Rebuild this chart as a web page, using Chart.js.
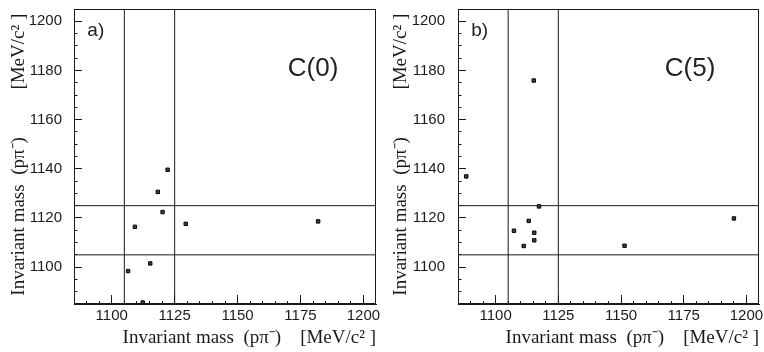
<!DOCTYPE html>
<html><head><meta charset="utf-8">
<script src="https://cdn.jsdelivr.net/npm/chart.js@4.4.1/dist/chart.umd.min.js"></script>
<style>
html,body{margin:0;padding:0;background:#fff;}
#wrap{position:relative;width:764px;height:352px;overflow:hidden;}
.pane{position:absolute;top:0;width:382px;height:352px;}
#pa{left:0;} #pb{left:382px;}
canvas{display:block;}
</style></head><body>
<div id="wrap">
  <div class="pane" id="pa"><canvas id="ca" width="382" height="352"></canvas></div>
  <div class="pane" id="pb"><canvas id="cb" width="382" height="352"></canvas></div>
</div>
<script>
// ---- data ----
const axisMin = 1085, axisMax = 1205;
const cutLines = [1105, 1125];
const xMajorTicks = [1100, 1125, 1150, 1175, 1200];
const yMajorTicks = [1100, 1120, 1140, 1160, 1180, 1200];
const minorTicks = [1090, 1095, 1100, 1105, 1110, 1115, 1120, 1125, 1130, 1135, 1140, 1145, 1150,
                    1155, 1160, 1165, 1170, 1175, 1180, 1185, 1190, 1195, 1200];
const panelA_x = [1122.2, 1118.3, 1120.2, 1109.2, 1129.4, 1106.5, 1115.3, 1112.3, 1182.0];
const panelA_y = [1139.6, 1130.6, 1122.4, 1116.4, 1117.6, 1098.4, 1101.5, 1085.6, 1118.6];
const panelB_x = [1115.2, 1088.3, 1117.3, 1113.2, 1107.3, 1115.4, 1115.4, 1111.2, 1151.4, 1195.0];
const panelB_y = [1175.9, 1136.9, 1124.7, 1118.8, 1114.8, 1114.0, 1110.9, 1108.6, 1108.7, 1119.8];
const panelLetters = ['a)', 'b)'];
const panelTags = ['C(0)', 'C(5)'];
const xTitle = 'Invariant mass  (pπ⁻)    [MeV/c² ]';
const yTitle = 'Invariant mass  (pπ⁻)          [MeV/c² ] ';

const INK = '#1a1a1a';
const tickFont = {family: '"Liberation Sans", Arial, sans-serif', size: 15};
const titleFont = {family: '"Liberation Serif", "Times New Roman", serif', size: 19};

const textPlugin = {
  id: 'panelText',
  afterDatasetsDraw(chart, args, opts) {
    const {ctx, chartArea} = chart;
    const xs = chart.scales.x, ys = chart.scales.y;
    ctx.save();
    ctx.strokeStyle = INK; ctx.lineWidth = 1;
    ctx.strokeRect(Math.round(chartArea.left) + 0.5, Math.round(chartArea.top) + 0.5,
                   Math.round(chartArea.right - chartArea.left) - 1, Math.round(chartArea.bottom - chartArea.top) - 1);
    ctx.fillStyle = '#222';
    ctx.font = '19px "Liberation Sans", Arial, sans-serif';
    ctx.textAlign = 'left'; ctx.textBaseline = 'middle';
    ctx.fillText(opts.letter, xs.getPixelForValue(opts.letterAt[0]), ys.getPixelForValue(opts.letterAt[1]));
    ctx.font = '26px "Liberation Sans", Arial, sans-serif';
    ctx.textAlign = 'center';
    ctx.fillText(opts.tag, xs.getPixelForValue(opts.tagAt[0]), ys.getPixelForValue(opts.tagAt[1]));
    ctx.restore();
  }
};

function makePanel(canvasId, xs, ys, letter, tag, layout) {
  const pts = xs.map((v, i) => ({x: v, y: ys[i]}));
  const lineDs = [];
  cutLines.forEach(c => {
    lineDs.push({data: [{x: c, y: axisMin}, {x: c, y: axisMax}], showLine: true, pointRadius: 0,
                 borderColor: INK, borderWidth: 1, order: 2});
    lineDs.push({data: [{x: axisMin, y: c}, {x: axisMax, y: c}], showLine: true, pointRadius: 0,
                 borderColor: INK, borderWidth: 1, order: 2});
  });
  return new Chart(document.getElementById(canvasId), {
    type: 'scatter',
    data: {datasets: [
      {data: pts, pointStyle: 'rect', pointRadius: 2.4, backgroundColor: '#444', borderColor: '#000',
       borderWidth: 1, order: 1},
      ...lineDs
    ]},
    options: {
      responsive: false, animation: false, devicePixelRatio: 1,
      layout: {padding: {left: 0, top: 9, right: layout.right, bottom: 0}},
      plugins: {legend: {display: false}, tooltip: {enabled: false},
                panelText: {letter, tag, letterAt: [1090.3, 1196], tagAt: layout.tagAt}},
      scales: {
        x: {
          type: 'linear', position: 'bottom', min: axisMin, max: axisMax,
          afterBuildTicks: s => { s.ticks = minorTicks.map(v => ({value: v})); },
          afterFit: s => { s.height = 48; s.paddingLeft = 0; s.paddingRight = 0; },
          ticks: {font: tickFont, color: INK, padding: 12, maxRotation: 0, autoSkip: false,
                  callback: v => xMajorTicks.includes(v) ? String(v) : ''},
          grid: {drawOnChartArea: false, tickLength: -9, tickColor: INK, tickWidth: 1,
                 tickBorderDash: c => (c.tick && xMajorTicks.includes(c.tick.value)) ? [] : [4, 100]},
          border: {display: true, color: INK, width: 1},
          title: {display: true, text: xTitle, align: 'end', font: titleFont, color: INK,
                  padding: {top: 0, bottom: 3}}
        },
        y: {
          type: 'linear', position: 'left', min: axisMin, max: axisMax,
          afterBuildTicks: s => { s.ticks = minorTicks.map(v => ({value: v})); },
          afterFit: s => { s.width = layout.left; s.paddingTop = 0; s.paddingBottom = 0; },
          ticks: {font: tickFont, color: INK, padding: layout.ypad, autoSkip: false,
                  callback: v => yMajorTicks.includes(v) ? String(v) : ''},
          grid: {drawOnChartArea: false, tickLength: -8, tickColor: INK, tickWidth: 1,
                 tickBorderDash: c => (c.tick && yMajorTicks.includes(c.tick.value)) ? [] : [0, 4.5, 5, 100]},
          border: {display: true, color: INK, width: 1},
          title: {display: true, text: yTitle, align: 'end', font: titleFont, color: INK,
                  padding: {top: 8, bottom: 0}}
        }
      }
    },
    plugins: [textPlugin]
  });
}

makePanel('ca', panelA_x, panelA_y, panelLetters[0], panelTags[0], {left: 74, right: 6, ypad: 20, tagAt: [1180, 1180.5]});
makePanel('cb', panelB_x, panelB_y, panelLetters[1], panelTags[1], {left: 76, right: 3, ypad: 21, tagAt: [1177.5, 1180.5]});
</script>
</body></html>
